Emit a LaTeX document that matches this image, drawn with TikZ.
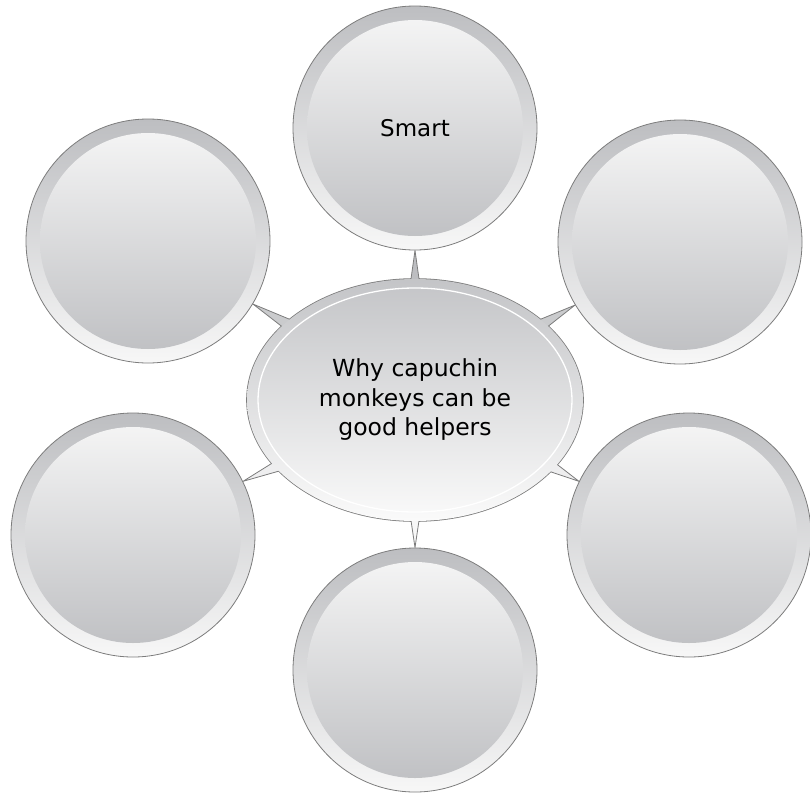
\documentclass[tikz,border=0pt]{standalone}
\usepackage{fontspec}
\setmainfont{DejaVu Sans}
\usetikzlibrary{shapes.geometric}
\usetikzlibrary{calc}
\usetikzlibrary{backgrounds}

\definecolor{rimgray}{HTML}{BDBEC1}
\definecolor{rimlight}{HTML}{F7F7F7}
\definecolor{edgegray}{HTML}{7C7C7C}

\begin{document}
\begin{tikzpicture}
      [x=1pt,y=1pt,
      bubble/.style={shape=circle,draw=edgegray,line width=0.8pt,minimum size=244pt,inner sep=0pt,
         top color=rimgray,bottom color=rimlight,font=\fontsize{23}{29}\selectfont,
         path picture={\shade[top color=rimlight,bottom color=rimgray]
            (path picture bounding box.center) circle (108pt);}},
      hubshape/.style={shape=ellipse,minimum width=336pt,minimum height=242pt,inner sep=0pt,
         top color=rimgray!90!white,bottom color=rimlight!60!white,align=center,
         font=\fontsize{23.5}{29.5}\selectfont,
         path picture={\draw[white,line width=1.3pt] (path picture bounding box.center)
            ellipse [x radius=157pt,y radius=112pt];}},
      spike/.style={draw=edgegray,line width=0.8pt}]
\useasboundingbox (0,0) rectangle (810,-795);

\node[hubshape] (hub) at (415,-400) {Why capuchin\\monkeys can be\\good helpers};

\node[bubble] (top) at (415,-128) {Smart};
\node[bubble] (ul) at (148,-241) {};
\node[bubble] (ur) at (680,-242) {};
\node[bubble] (ll) at (133,-535) {};
\node[bubble] (lr) at (689,-535) {};
\node[bubble] (bot) at (415,-670) {};

\begin{scope}[on background layer]
\draw[edgegray,line width=1.6pt] (hub.center) ellipse [x radius=168pt,y radius=121pt];
\foreach \leaf/\ang/\tone in {top/90/rimgray,ul/149/rimgray!80!white,ur/31/rimgray!80!white,
      ll/206/rimlight!85!rimgray,lr/334/rimlight!85!rimgray,bot/270/rimlight}{
   \pgfmathsetmacro\back{int(mod(\ang+180,360))}
   \pgfmathsetmacro\lo{int(\ang-3)}
   \pgfmathsetmacro\hi{int(\ang+3)}
   \filldraw[spike,fill=\tone] ($(hub.center)!0.9!(hub.\lo)$) -- (\leaf.\back)
      -- ($(hub.center)!0.9!(hub.\hi)$) -- cycle;
}
\end{scope}

\end{tikzpicture}
\end{document}
